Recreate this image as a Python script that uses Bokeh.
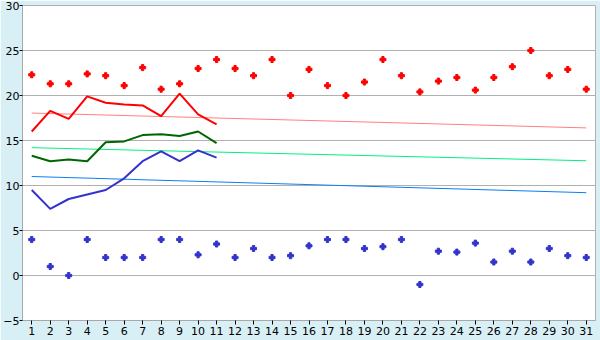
from bokeh.plotting import figure
from bokeh.models import Range1d, FixedTicker
from bokeh.embed import file_html
from bokeh.resources import INLINE

days = list(range(1, 32))
max_pts = [22.3, 21.3, 21.3, 22.4, 22.2, 21.1, 23.1, 20.7, 21.3, 23.0,
           24.0, 23.0, 22.2, 24.0, 20.0, 22.9, 21.1, 20.0, 21.5, 24.0,
           22.2, 20.4, 21.6, 22.0, 20.6, 22.0, 23.2, 25.0, 22.2, 22.9, 20.7]
min_pts = [4.0, 1.0, 0.0, 4.0, 2.0, 2.0, 2.0, 4.0, 4.0, 2.3,
           3.5, 2.0, 3.0, 2.0, 2.2, 3.3, 4.0, 4.0, 3.0, 3.2,
           4.0, -1.0, 2.7, 2.6, 3.6, 1.5, 2.7, 1.5, 3.0, 2.2, 2.0]
line_days = list(range(1, 12))
red_line = [16.0, 18.3, 17.4, 19.9, 19.2, 19.0, 18.9, 17.7, 20.2, 17.9, 16.8]
green_line = [13.3, 12.7, 12.9, 12.7, 14.8, 14.9, 15.6, 15.7, 15.5, 16.0, 14.7]
blue_line = [9.5, 7.4, 8.5, 9.0, 9.5, 10.8, 12.7, 13.8, 12.7, 13.9, 13.1]
trend_days = [1, 31]
trend_max = [18.05, 16.4]
trend_mean = [14.2, 12.75]
trend_min = [11.0, 9.2]
y_ticks = [-5, 0, 5, 10, 15, 20, 25, 30]

p = figure(width=600, height=340, output_backend="svg", toolbar_location=None,
           x_range=Range1d(0.5, 31.5), y_range=Range1d(-5, 30),
           min_border_left=0, min_border_right=5, min_border_top=5, min_border_bottom=20)
p.background_fill_color = "white"
p.border_fill_color = "#d9eff6"
p.outline_line_color = "#b0b0b0"

for ax in (p.xaxis, p.yaxis):
    ax.axis_line_color = "#a8a8a8"
    ax.major_tick_line_color = "black"
    ax.minor_tick_line_color = None
    ax.major_tick_in = 0
    ax.major_label_text_font = "DejaVu Sans"
    ax.major_label_text_font_size = "11px"
    ax.major_label_text_color = "black"
p.xaxis.major_label_standoff = 2
p.yaxis.major_label_standoff = 0
p.xaxis.ticker = FixedTicker(ticks=days)
p.yaxis.ticker = FixedTicker(ticks=y_ticks)
p.xaxis.major_tick_out = 4
p.yaxis.major_tick_out = 3
p.xgrid.grid_line_color = None
p.ygrid.grid_line_color = "#b0b0b0"

p.line(trend_days, trend_max, line_color="#ff8080", line_width=1)
p.line(trend_days, trend_mean, line_color="#00f080", line_width=1)
p.line(trend_days, trend_min, line_color="#0a7ff0", line_width=1)

p.line(line_days, red_line, line_color="#ff0000", line_width=2)
p.line(line_days, green_line, line_color="#006600", line_width=2)
p.line(line_days, blue_line, line_color="#3333cc", line_width=2)

p.scatter(days, max_pts, marker="plus", size=6, fill_color="#ff0000", line_color="#ff0000")
p.scatter(days, min_pts, marker="plus", size=6, fill_color="#3333cc", line_color="#3333cc")

open("out.html", "w").write(file_html(p, INLINE))
